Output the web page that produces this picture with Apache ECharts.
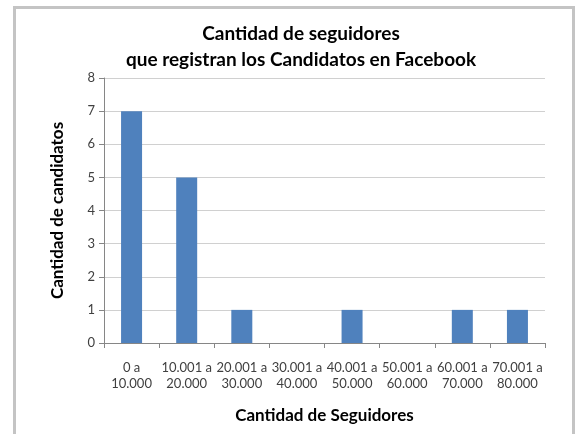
<!DOCTYPE html>
<html>
<head>
<meta charset="utf-8">
<script src="https://cdn.jsdelivr.net/npm/echarts@6/dist/echarts.min.js"></script>
<style>
    html, body { margin: 0; padding: 0; background: #fff; }
    #frame {
        position: absolute; left: 13px; top: 6px;
        width: 562px; height: 440px;
        border: 3px solid #c4c4c4;
        box-sizing: border-box;
    }
    #mainChart { position: absolute; left: 0; top: 0; width: 579px; height: 434px; }
</style>
</head>
<body>
<div id="frame"></div>
<div id="mainChart"></div>
<script>
// rangos de seguidores
const categories = ['0 a\n10.000', '10.001 a\n20.000', '20.001 a\n30.000', '30.001 a\n40.000',
    '40.001 a\n50.000', '50.001 a\n60.000', '60.001 a\n70.000', '70.001 a\n80.000']
// cantidad de candidatos por rango
const candidatos = [7, 5, 1, 0, 1, 0, 1, 1]
const yMin = 0
const yMax = 8
const yStep = 1

const font = 'Lato, "Open Sans", sans-serif'

var myChart = echarts.init(document.getElementById('mainChart'))

var option = {
    animation: false,
    title: {
        text: 'Cantidad de seguidores\nque registran los Candidatos en Facebook',
        left: 296,
        top: 16,
        textAlign: 'center',
        textStyle: { fontFamily: font, fontSize: 19, fontWeight: 'bold', color: '#000', lineHeight: 26 }
    },
    grid: { left: 104, top: 78, right: 34, bottom: 91 },
    xAxis: {
        type: 'category',
        data: categories,
        name: 'Cantidad de Seguidores',
        nameLocation: 'middle',
        nameGap: 64,
        nameTextStyle: { fontFamily: font, fontSize: 17, fontWeight: 'bold', color: '#000' },
        axisLine: { lineStyle: { color: '#868686' } },
        axisTick: { show: true, length: 5, lineStyle: { color: '#868686' } },
        axisLabel: { interval: 0, fontFamily: font, fontSize: 13, color: '#404040', lineHeight: 16, margin: 17 }
    },
    yAxis: {
        type: 'value',
        min: yMin,
        max: yMax,
        interval: yStep,
        name: 'Cantidad de candidatos',
        nameLocation: 'middle',
        nameGap: 38,
        nameTextStyle: { fontFamily: font, fontSize: 17, fontWeight: 'bold', color: '#000' },
        axisLine: { show: true, lineStyle: { color: '#868686' } },
        axisTick: { show: true, length: 5, lineStyle: { color: '#868686' } },
        axisLabel: { fontFamily: font, fontSize: 13, color: '#404040', margin: 9 },
        splitLine: { lineStyle: { color: '#d0d0d0' } }
    },
    series: [
        {
            name: 'Candidatos',
            type: 'bar',
            data: candidatos,
            barWidth: 21,
            itemStyle: { color: '#4f81bd' }
        }
    ]
}

myChart.setOption(option)
</script>
</body>
</html>
